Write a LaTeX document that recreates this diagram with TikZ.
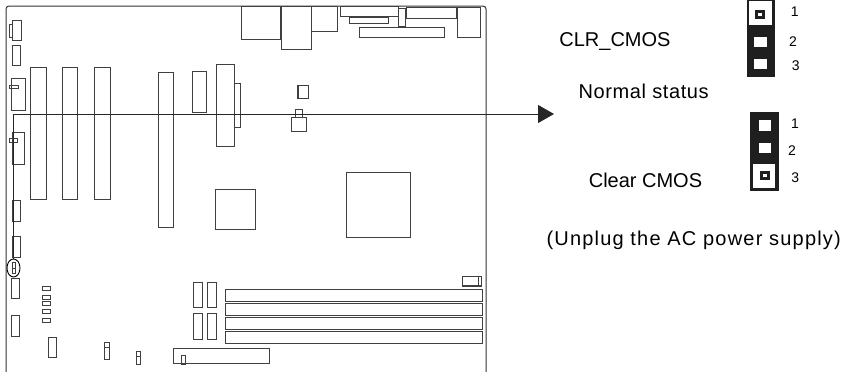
\documentclass[tikz,border=0pt]{standalone}
\usepackage{fontspec}
\setmainfont{Liberation Sans}
\usepackage{tikz}
\usetikzlibrary{arrows.meta, positioning, calc, shapes.geometric}

\begin{document}
\begin{tikzpicture}[
  x=1pt, y=-1pt,
  part/.style = {draw=black!75, line width=0.9pt},
  board/.style = {draw=black!80, line width=1pt, rounded corners=3pt},
  arrow/.style = {line width=1pt, draw=black!85, -{Triangle[length=16pt, width=18pt]}},
  jumper/.style = {fill=black!88},
  pin/.style = {fill=white},
  caption/.style = {font=\fontsize{20}{24}\selectfont, inner sep=0pt},
  pinno/.style = {font=\fontsize{14}{16}\selectfont, inner sep=0pt}
]
\useasboundingbox (0,0) rectangle (847,372);

% Board outline
\draw[board] (6,372.6) -- (6,6) -- (486,6) -- (486,372.6);

% Left edge connectors
\draw[part] (12,20) rectangle (21,40) (9,24) rectangle (12,37);
\draw[part] (12,45) rectangle (20,65);
\draw[part] (11,78) rectangle (25,110) (9,85) rectangle (18,88);
\draw[part] (12,132) rectangle (24,164) (9,138) rectangle (17,142);
\draw[part] (12,200) rectangle (20,221);
\draw[part] (12,236) rectangle (20,257);
\draw[part] (11.5,278) rectangle (19.5,298);
\draw[part] (11.5,315.5) rectangle (19.5,336);

% Expansion slots
\draw[part] (30,67) rectangle (46,199);
\draw[part] (62,67.5) rectangle (77,199);
\draw[part] (94,67) rectangle (110,199);
\draw[part] (158.5,72) rectangle (173,227);
\draw[part] (192,71) rectangle (206,112.5);
\draw[part] (216,64) rectangle (234,146);
\draw[part] (234,83) rectangle (240,127);

% Rear panel
\draw[part] (241,6) rectangle (280,39);
\draw[part] (281,6) rectangle (311,49);
\draw[part] (311,6) rectangle (337,31);
\draw[part] (340,6) rectangle (398,16);
\draw[part] (349,17) rectangle (388,23);
\draw[part] (398.5,8) rectangle (405,26);
\draw[part] (406,7) rectangle (456,18.5);
\draw[part] (359,27) rectangle (444,37);
\draw[part] (457,7) rectangle (480,37);

% Chips
\draw[part] (297.5,85) rectangle (308,98.5);
\draw[part, line width=1.8pt] (298.5,85) -- (298.5,98.5);
\draw[part] (295,109) rectangle (302,117);
\draw[part] (291,117) rectangle (306.5,131);
\draw[part] (346.5,172) rectangle (410,237);
\draw[part] (215,189) rectangle (255,229);

% Small headers, lower left
\draw[part] (42.5,286.5) rectangle (50,290.5);
\draw[part] (42.5,295) rectangle (50,299);
\draw[part] (42.5,301) rectangle (50,305.5);
\draw[part] (42.5,309) rectangle (50,313.5);
\draw[part] (42.5,318) rectangle (50,322);
\draw[part] (48,337) rectangle (56.5,357.5);
\draw[part] (104,342) rectangle (109.5,359.5) (104,347) -- (109.5,347);
\draw[part] (136,351.5) rectangle (140.5,364.5) (136,356) -- (140.5,356);

% Lower slot
\draw[part] (173.5,348) rectangle (269.5,363);
\draw[part] (181.5,355.5) rectangle (185.5,364.5);

% Power and IDE headers
\draw[part] (193,282) rectangle (202,307.5);
\draw[part] (207,282) rectangle (216.5,307);
\draw[part] (193,313.5) rectangle (202,339);
\draw[part] (207,313.5) rectangle (216.5,339);

% Memory sockets
\draw[part] (225.5,289) rectangle (482.5,301.5);
\draw[part] (225.5,303) rectangle (482.5,315);
\draw[part] (225.5,317) rectangle (482.5,329);
\draw[part] (225.5,331) rectangle (482.5,343);
\draw[part] (462.5,276.5) rectangle (481.5,286);
\draw[part] (462.5,285) -- (481.5,285) (478,276.5) -- (478,285);

% CLR_CMOS mark on the board
\draw[part] (12,262.5) rectangle (15.5,273) (12,268) -- (15.5,268);
\node[ellipse, part, black, minimum width=13pt, minimum height=18pt, inner sep=0pt] (clrmark) at (13.5,268) {};

% Arrow to the jumpers
\coordinate (arrowend) at (554,114);
\draw[arrow] (clrmark.north) |- (arrowend);

% Normal status jumper
\fill[jumper] (746.7,0) rectangle (775,77);
\fill[pin] (749,1) rectangle (772,25);
\fill[jumper] (755,10) rectangle (764.5,19.3);
\fill[pin] (758,13) rectangle (761.5,16.3);
\fill[pin] (754,36.7) rectangle (767,46.7);
\fill[pin] (754,59) rectangle (767,69);

% Clear CMOS jumper
\fill[jumper] (750,112.3) rectangle (778.5,190.7);
\fill[pin] (759,120) rectangle (770.7,130.7);
\fill[pin] (759,143) rectangle (770.7,153);
\fill[pin] (753.3,164) rectangle (775,188.3);
\fill[jumper] (760,170.7) rectangle (770,180);
\fill[pin] (763,173.7) rectangle (767,177);

% Pin numbers
\node[pinno] (topone) at (794.7,12) {1};
\node[pinno] (toptwo) at (793,41.5) {2};
\node[pinno] (topthree) at (795.7,65.5) {3};
\node[pinno] (botone) at (795,124) {1};
\node[pinno] (bottwo) at (792,151) {2};
\node[pinno] (botthree) at (795.3,178) {3};

% Captions
\node[caption] (clrname) at (615,42) {CLR\_CMOS};
\node[caption] (normal) at (643.7,91.5) {\addfontfeature{LetterSpace=3}Normal status};
\node[caption] (clear) at (645.5,180) {Clear CMOS};
\node[caption] (unplug) at (693.7,240) {\addfontfeature{LetterSpace=6}(Unplug the AC power supply)};

\end{tikzpicture}
\end{document}
